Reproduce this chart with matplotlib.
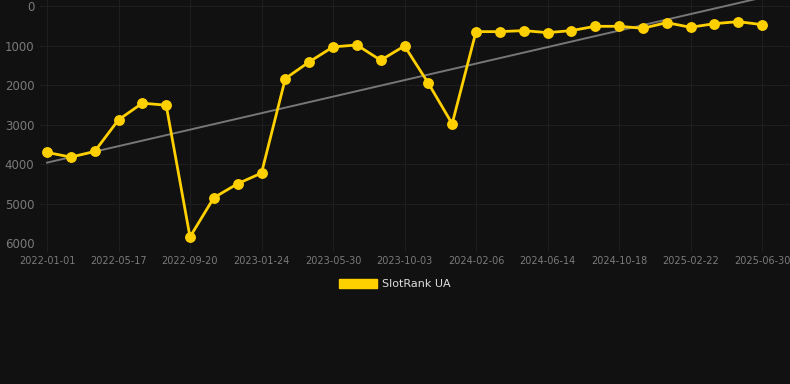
import numpy as np
import matplotlib
matplotlib.use("Agg")
import matplotlib.pyplot as plt

# Data (rank values; y axis is inverted)
values = [3707, 3825, 3682, 2881, 2460, 2511, 5847, 4853, 4499, 4229,
          1837, 1415, 1036, 986, 1373, 1011, 1955, 2982, 649, 649,
          623, 674, 623, 514, 514, 564, 421, 539, 447, 396, 472]
tick_labels = ["2022-01-01", "2022-05-17", "2022-09-20", "2023-01-24",
               "2023-05-30", "2023-10-03", "2024-02-06", "2024-06-14",
               "2024-10-18", "2025-02-22", "2025-06-30"]
series_name = "SlotRank UA"
y_ticks = [0, 1000, 2000, 3000, 4000, 5000, 6000]

bg = "#111111"
gold = "#FFD000"

x = np.arange(len(values))
tick_pos = x[::3]

fig = plt.figure(figsize=(7.9, 3.84), dpi=100, facecolor=bg)
ax = fig.add_axes([40 / 790, (384 - 243) / 384, 750 / 790, 243 / 384])
ax.set_facecolor(bg)

# trend line (least squares)
coef = np.polyfit(x, values, 1)
xt = np.array([0, len(values) + 2])
ax.plot(xt, np.polyval(coef, xt), color="#777777", lw=1.4, zorder=2)

ax.plot(x, values, color=gold, lw=2.0, marker="o", markersize=6.8,
        markerfacecolor=gold, markeredgecolor=gold, zorder=3, label=series_name)

px_per_idx = (762 - 47) / 30
ax.set_xlim(-(47 - 40) / px_per_idx, 30 + (790 - 762) / px_per_idx)
ax.set_ylim(6000, -152)

ax.set_xticks(tick_pos)
ax.set_xticklabels(tick_labels)
ax.set_yticks(y_ticks)
ax.set_yticklabels([str(v) for v in y_ticks])

ax.grid(True, color="#1e1e1e", lw=0.8)
ax.set_axisbelow(True)
for s in ax.spines.values():
    s.set_visible(False)
ax.tick_params(axis="x", colors="#1e1e1e", length=6, width=0.8, labelsize=7,
               labelcolor="#7a7a7a", pad=3)
ax.tick_params(axis="y", length=0, labelsize=8.5, labelcolor="#7a7a7a", pad=4)

leg = fig.legend(handles=[matplotlib.patches.Patch(color=gold, label=series_name)],
                 loc="center", bbox_to_anchor=(0.5, 1 - 284 / 384), frameon=False,
                 fontsize=8, handlelength=3.4, handleheight=0.9, labelcolor="#dddddd",
                 handletextpad=0.5)

fig.savefig("out.png", dpi=100, facecolor=bg)
